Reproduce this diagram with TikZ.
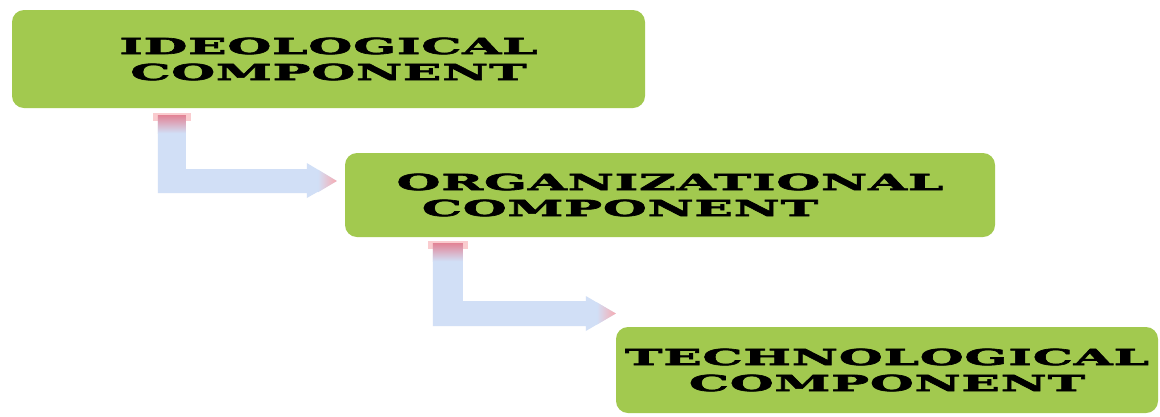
\documentclass[tikz,border=0pt]{standalone}
\usepackage{fontspec}
\usetikzlibrary{calc}
\newfontfamily\wf{DejaVu Serif}[FakeStretch=2.3, FakeBold=3, LetterSpace=3]
\definecolor{boxgreen}{RGB}{162,201,79}
\definecolor{arrowblue}{RGB}{209,223,246}
\definecolor{pinkdark}{RGB}{226,132,150}
\definecolor{pinklight}{RGB}{248,170,176}
\begin{document}
\begin{tikzpicture}[x=1pt,y=-1pt,
  comp/.style={fill=boxgreen, rounded corners=12pt, inner sep=0pt, text=black,
    font=\wf\bfseries\fontsize{22}{26}\selectfont, align=center},
  arrowbody/.style={fill=arrowblue},
  topglow/.style={top color=pinkdark, bottom color=arrowblue},
  tipglow/.style={left color=arrowblue, right color=pinklight}]
\useasboundingbox (0,0) rectangle (1160,416);
\fill[white] (0,0) rectangle (1160,416);

% boxes
\node[comp, minimum width=633pt, minimum height=98pt] (ideo) at (328.5,59) {IDEOLOGICAL\\COMPONENT};
\node[comp, minimum width=650pt, minimum height=84pt] (org) at (670,195) {ORGANIZATIONAL\\COMPONENT\hspace*{100pt}};
\node[comp, minimum width=542pt, minimum height=86pt] (tech) at (887,370) {TECHNOLOGICAL\\COMPONENT};

% arrow 1: from ideo to org
\coordinate (a1s) at ($(ideo.south west)+(146,7)$);
\coordinate (a1t) at ($(org.west)+(-8,-14)$);
\fill[arrowbody] (a1s) -- ++(28,0) |- ($(a1t)+(-30,-12)$) -- ++(0,-6) -- (a1t) -- ++(-30,17) -- ++(0,-5) -| (a1s) -- cycle;
\fill[pinklight, opacity=0.6] ($(a1s)+(-5,-2)$) rectangle ($(a1s)+(33,6)$);
\shade[topglow] (a1s) rectangle ($(a1s)+(28,18)$);
\shade[tipglow] ($(a1t)+(-19,-11.4)$) -- (a1t) -- ($(a1t)+(-19,11.4)$) -- cycle;

% arrow 2: from org to tech
\coordinate (a2s) at ($(org.south west)+(88,6)$);
\coordinate (a2t) at ($(tech.west)+(0,-56.5)$);
\fill[arrowbody] (a2s) -- ++(30,0) |- ($(a2t)+(-30,-12.5)$) -- ++(0,-5) -- (a2t) -- ++(-30,17.5) -- ++(0,-5) -| (a2s) -- cycle;
\fill[pinklight, opacity=0.6] ($(a2s)+(-5,-2)$) rectangle ($(a2s)+(35,6)$);
\shade[topglow] (a2s) rectangle ($(a2s)+(30,18)$);
\shade[tipglow] ($(a2t)+(-19,-11.1)$) -- (a2t) -- ($(a2t)+(-19,11.1)$) -- cycle;
\end{tikzpicture}
\end{document}
